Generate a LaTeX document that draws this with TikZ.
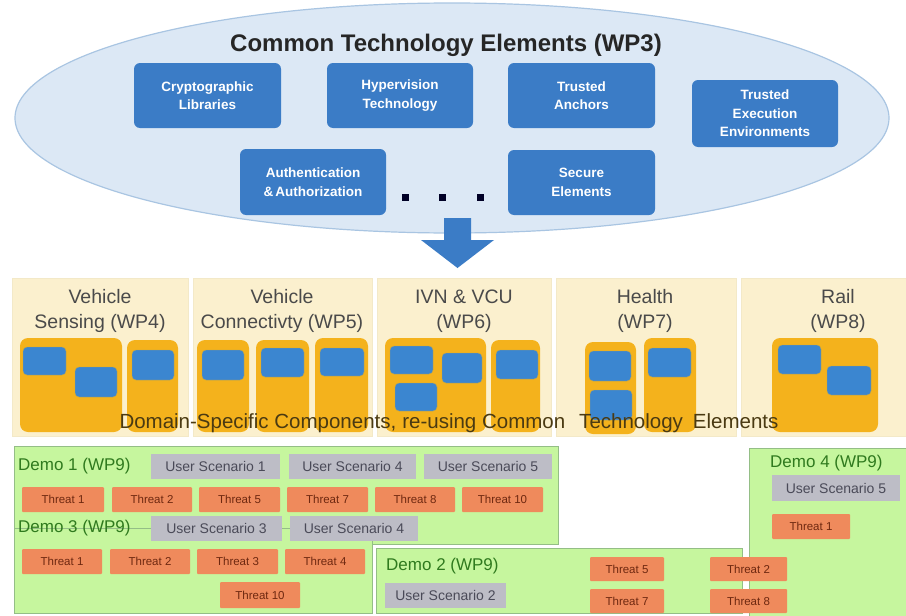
\documentclass[tikz,border=0pt]{standalone}
\usepackage{fontspec}
\setmainfont{Liberation Sans}
\usetikzlibrary{shapes.geometric}
\definecolor{ellfill}{HTML}{DCE8F5}
\definecolor{elldraw}{HTML}{A9C5E2}
\definecolor{tblue}{HTML}{3B7CC6}
\definecolor{panelc}{HTML}{FBF0CE}
\definecolor{orangec}{HTML}{F4B21C}
\definecolor{sqblue}{HTML}{3B86D0}
\definecolor{greenc}{HTML}{C6F69E}
\definecolor{greend}{HTML}{94BE86}
\definecolor{greent}{HTML}{2F7A1E}
\definecolor{threatc}{HTML}{EF8A5C}
\definecolor{threatt}{HTML}{6E2810}
\definecolor{usc}{HTML}{BDBDC6}
\definecolor{ust}{HTML}{4A4A58}
\definecolor{titlegrey}{HTML}{4A4A4A}
\definecolor{domtext}{HTML}{4A3A12}
\newcommand\mybox[7]{\node[#6, inner sep=0pt, minimum width={(#4-#2)*1pt}, minimum height={(#5-#3)*1pt}] (#1) at ({(#2+#4)/2},{(#3+#5)/2}) {#7};}
\tikzset{
  techbox/.style={fill=tblue, rounded corners=6pt, text=white, font=\fontsize{13.5}{18.5}\selectfont\bfseries, align=center},
  panelbox/.style={fill=panelc, draw=panelc!85!black!20!panelc},
  orangebox/.style={fill=orangec, rounded corners=8pt},
  sqbox/.style={fill=sqblue, draw=orangec!70!sqblue, rounded corners=4pt},
  demobox/.style={fill=greenc, draw=greend, line width=0.8pt},
  threatbox/.style={fill=threatc, rounded corners=1pt, text=threatt, font=\fontsize{11.5}{12}\selectfont},
  usbox/.style={fill=usc, text=ust, font=\fontsize{14}{15}\selectfont},
  demolabel/.style={text=greent, font=\fontsize{17}{18}\selectfont, inner sep=0pt},
  paneltitle/.style={text=titlegrey, font=\fontsize{19.5}{24.5}\selectfont, align=center},
  dotbox/.style={fill=black!75!blue!60!black, minimum size=7pt, inner sep=0pt}
}
\begin{document}
\begin{tikzpicture}[x=1pt,y=-1pt]
\path[use as bounding box, fill=white] (0,0) rectangle (906,616);
% ellipse
\node[ellipse, fill=ellfill, draw=elldraw, line width=1.2pt, minimum width=874pt, minimum height=230pt, inner sep=0pt] (ell) at (452,118) {};
\node[font=\fontsize{24}{26}\selectfont\bfseries, text=black!85] (title) at (446,45) {Common Technology Elements (WP3)};
\mybox{crypto}{134}{63}{281}{128}{techbox}{Cryptographic\\Libraries}
\mybox{hyper}{327}{63}{473}{128}{techbox}{Hypervision\\Technology}
\mybox{anchors}{508}{63}{655}{128}{techbox}{Trusted\\Anchors}
\mybox{tee}{692}{80}{838}{147}{techbox}{Trusted\\Execution\\Environments}
\mybox{auth}{240}{149}{386}{215}{techbox}{Authentication\\\&\,Authorization}
\mybox{secure}{508}{150}{655}{215}{techbox}{Secure\\Elements}
\node[dotbox] (d1) at (405,197) {};
\node[dotbox] (d2) at (442,197) {};
\node[dotbox] (d3) at (480,197) {};
% arrow
\fill[tblue] (444,218) -- (471,218) -- (471,240) -- (494,240) -- (457.5,268) -- (421,240) -- (444,240) -- cycle;
% panels
\mybox{p1}{12}{278}{188}{436}{panelbox}{}
\mybox{p2}{193}{278}{372}{436}{panelbox}{}
\mybox{p3}{377}{278}{551}{436}{panelbox}{}
\mybox{p4}{556}{278}{736}{436}{panelbox}{}
\mybox{p5}{741}{278}{906}{436}{panelbox}{}
\node[paneltitle] (t1) at (100,311) {Vehicle\\Sensing (WP4)};
\node[paneltitle] (t2) at (282,311) {Vehicle\\Connectivty (WP5)};
\node[paneltitle] (t3) at (464,311) {IVN \& VCU\\(WP6)};
\node[paneltitle] (t4) at (645,311) {Health\\(WP7)};
\node[paneltitle] (t5) at (838,311) {Rail\\(WP8)};
% orange blocks
\mybox{o1}{20}{338}{122}{432}{orangebox}{}
\mybox{o2}{127}{340}{178}{432}{orangebox}{}
\mybox{o3}{197}{340}{249}{432}{orangebox}{}
\mybox{o4}{256}{340}{309}{432}{orangebox}{}
\mybox{o5}{315}{338}{368}{432}{orangebox}{}
\mybox{o6}{385}{338}{486}{432}{orangebox}{}
\mybox{o7}{491}{340}{540}{432}{orangebox}{}
\mybox{o8}{585}{342}{636}{434}{orangebox}{}
\mybox{o9}{644}{338}{696}{432}{orangebox}{}
\mybox{o10}{772}{338}{878}{432}{orangebox}{}
% blue squares
\mybox{s1}{23}{347}{66}{375}{sqbox}{}
\mybox{s2}{75}{367}{117}{397}{sqbox}{}
\mybox{s3}{132}{350}{174}{380}{sqbox}{}
\mybox{s4}{202}{350}{244}{380}{sqbox}{}
\mybox{s5}{261}{348}{304}{377}{sqbox}{}
\mybox{s6}{320}{348}{364}{376}{sqbox}{}
\mybox{s7}{390}{346}{433}{374}{sqbox}{}
\mybox{s8}{442}{353}{482}{383}{sqbox}{}
\mybox{s9}{395}{383}{437}{411}{sqbox}{}
\mybox{s10}{496}{350}{538}{379}{sqbox}{}
\mybox{s11}{589}{351}{631}{381}{sqbox}{}
\mybox{s12}{590}{390}{632}{420}{sqbox}{}
\mybox{s13}{648}{348}{691}{377}{sqbox}{}
\mybox{s14}{778}{345}{821}{374}{sqbox}{}
\mybox{s15}{827}{366}{871}{395}{sqbox}{}
\node[text=domtext, font=\fontsize{20.5}{21}\selectfont] (dsc) at (449,423) {Domain-Specific Components,\hspace{6pt}re-using Common\hspace{14pt}Technology\hspace{10pt}Elements};
% demo boxes
\mybox{demo1}{14}{446}{558}{544}{demobox}{}
\mybox{demo3}{14}{528}{372}{613}{demobox}{}
\mybox{demo2}{376}{548}{742}{613}{demobox}{}
\mybox{demo4}{749}{448}{908}{618}{demobox}{}
% demo 1
\node[demolabel, anchor=west] (l1) at (18,466) {Demo 1 (WP9)};
\mybox{u11}{151}{454}{280}{479}{usbox}{User Scenario 1}
\mybox{u14}{289}{454}{416}{479}{usbox}{User Scenario 4}
\mybox{u15}{424}{454}{552}{479}{usbox}{User Scenario 5}
\mybox{a1}{22}{487}{104}{512}{threatbox}{Threat 1}
\mybox{a2}{112}{487}{192}{512}{threatbox}{Threat 2}
\mybox{a5}{199}{487}{280}{512}{threatbox}{Threat 5}
\mybox{a7}{287}{487}{368}{512}{threatbox}{Threat 7}
\mybox{a8}{375}{487}{455}{512}{threatbox}{Threat 8}
\mybox{a10}{462}{487}{543}{512}{threatbox}{Threat 10}
% demo 3
\node[demolabel, anchor=west] (l3) at (18,528) {Demo 3 (WP9)};
\mybox{u33}{151}{516}{282}{541}{usbox}{User Scenario 3}
\mybox{u34}{290}{516}{418}{541}{usbox}{User Scenario 4}
\mybox{b1}{22}{549}{102}{574}{threatbox}{Threat 1}
\mybox{b2}{110}{549}{190}{574}{threatbox}{Threat 2}
\mybox{b3}{197}{549}{278}{574}{threatbox}{Threat 3}
\mybox{b4}{285}{549}{365}{574}{threatbox}{Threat 4}
\mybox{b10}{220}{582}{300}{608}{threatbox}{Threat 10}
% demo 2
\node[demolabel, anchor=west] (l2) at (386,566) {Demo 2 (WP9)};
\mybox{u22}{385}{583}{506}{608}{usbox}{User Scenario 2}
\mybox{c5}{590}{557}{664}{581}{threatbox}{Threat 5}
\mybox{c2}{710}{557}{787}{581}{threatbox}{Threat 2}
\mybox{c7}{590}{589}{664}{613}{threatbox}{Threat 7}
\mybox{c8}{710}{589}{787}{613}{threatbox}{Threat 8}
% demo 4
\node[demolabel, anchor=west] (l4) at (770,463) {Demo 4 (WP9)};
\mybox{u45}{772}{475}{900}{501}{usbox}{User Scenario 5}
\mybox{e1}{772}{514}{850}{539}{threatbox}{Threat 1}
\end{tikzpicture}
\end{document}
